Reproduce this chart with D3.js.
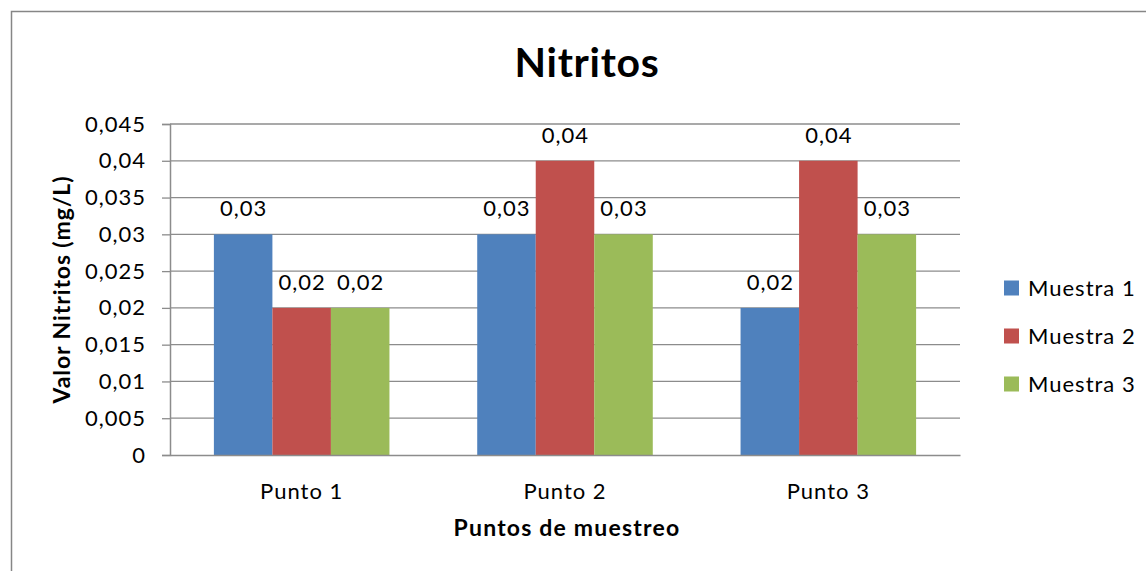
<!DOCTYPE html>
<html>
<head>
<meta charset="utf-8">
<script src="https://cdn.jsdelivr.net/npm/d3@7"></script>
<style>
  html, body { margin: 0; padding: 0; background: #fff; }
  svg { display: block; font-family: Lato, "Open Sans", sans-serif; }
</style>
</head>
<body>
<svg id="chart" width="1146" height="571"></svg>
<script>
// Nitrite values (mg/L) per sampling point and sample
const categories = ["Punto 1", "Punto 2", "Punto 3"];
const seriesNames = ["Muestra 1", "Muestra 2", "Muestra 3"];
const muestra1 = [0.03, 0.03, 0.02];
const muestra2 = [0.02, 0.04, 0.04];
const muestra3 = [0.02, 0.03, 0.03];
const yTicks = [0, 0.005, 0.01, 0.015, 0.02, 0.025, 0.03, 0.035, 0.04, 0.045];
const colors = ["#4F81BD", "#C0504D", "#9BBB59"];

const series = [muestra1, muestra2, muestra3];
const fmt = v => String(+v.toFixed(4)).replace(".", ",");

const FS = 22;       // regular text size
const LS = 1;        // regular letter spacing

const svg = d3.select("#chart");

// outer chart frame
svg.append("rect")
  .attr("x", 11.5).attr("y", 11.5)
  .attr("width", 1160).attr("height", 600)
  .attr("fill", "none").attr("stroke", "#868686").attr("stroke-width", 1.5);

const plot = { left: 170, right: 960, top: 124, bottom: 455 };

const y = d3.scaleLinear().domain([0, 0.045]).range([plot.bottom, plot.top]);
const x0 = d3.scaleBand().domain(categories).range([plot.left, plot.right])
  .paddingInner(0).paddingOuter(0);
const barW = x0.bandwidth() / 4.5;
const x1 = d3.scaleBand().domain(d3.range(3)).range([0, barW * 3]);

// gridlines
svg.append("g").selectAll("line").data(yTicks.slice(1)).join("line")
  .attr("x1", plot.left).attr("x2", plot.right)
  .attr("y1", d => y(d)).attr("y2", d => y(d))
  .attr("stroke", "#8c8c8c").attr("stroke-width", 1.3);

// y axis
const yAxis = svg.append("g").attr("transform", `translate(${plot.left},0)`)
  .call(d3.axisLeft(y).tickValues(yTicks).tickFormat(fmt).tickSize(8).tickPadding(16));
yAxis.select(".domain").attr("stroke", "#8c8c8c").attr("stroke-width", 1.5);
yAxis.selectAll(".tick line").attr("stroke", "#8c8c8c").attr("stroke-width", 1.3);
yAxis.selectAll(".tick text").attr("font-size", FS).attr("fill", "#000")
  .attr("letter-spacing", LS).attr("font-family", "Lato, sans-serif");

// bars
const groups = svg.append("g").selectAll("g").data(categories).join("g")
  .attr("transform", d => `translate(${x0(d) + (x0.bandwidth() - barW * 3) / 2},0)`);

groups.selectAll("rect").data((d, i) => series.map((s, k) => ({ k, v: s[i] })))
  .join("rect")
  .attr("x", d => x1(d.k))
  .attr("y", d => y(d.v))
  .attr("width", x1.bandwidth())
  .attr("height", d => y(0) - y(d.v))
  .attr("fill", d => colors[d.k]);

// value labels above bars
groups.selectAll("text").data((d, i) => series.map((s, k) => ({ k, v: s[i] })))
  .join("text")
  .attr("x", d => x1(d.k) + x1.bandwidth() / 2 + LS / 2)
  .attr("y", d => y(d.v) - 18)
  .attr("text-anchor", "middle")
  .attr("font-size", FS).attr("letter-spacing", LS).attr("fill", "#000")
  .text(d => fmt(d.v));

// x axis
const xAxis = svg.append("g").attr("transform", `translate(0,${plot.bottom})`)
  .call(d3.axisBottom(x0).tickSize(0).tickPadding(28));
xAxis.select(".domain").attr("stroke", "#8c8c8c").attr("stroke-width", 1.5);
xAxis.selectAll(".tick text").attr("font-size", FS).attr("fill", "#000")
  .attr("letter-spacing", LS).attr("font-family", "Lato, sans-serif");

// titles
svg.append("text").attr("x", 587).attr("y", 77).attr("text-anchor", "middle")
  .attr("font-size", 41).attr("font-weight", "bold").attr("letter-spacing", 0.7)
  .text("Nitritos");

svg.append("text").attr("x", 567).attr("y", 536).attr("text-anchor", "middle")
  .attr("font-size", 23).attr("font-weight", "bold").attr("letter-spacing", 1.2)
  .text("Puntos de muestreo");

svg.append("text")
  .attr("transform", `translate(70,${(plot.top + plot.bottom) / 2}) rotate(-90)`)
  .attr("text-anchor", "middle")
  .attr("font-size", 23).attr("font-weight", "bold").attr("letter-spacing", 0.9)
  .text("Valor Nitritos (mg/L)");

// legend
const legend = svg.append("g").selectAll("g").data(seriesNames).join("g")
  .attr("transform", (d, i) => `translate(1004,${288 + i * 48})`);
legend.append("rect").attr("x", 0).attr("y", -7.5).attr("width", 15).attr("height", 15)
  .attr("fill", (d, i) => colors[i]);
legend.append("text").attr("x", 24).attr("y", 8)
  .attr("font-size", FS).attr("letter-spacing", LS).attr("fill", "#000").text(d => d);
</script>
</body>
</html>
